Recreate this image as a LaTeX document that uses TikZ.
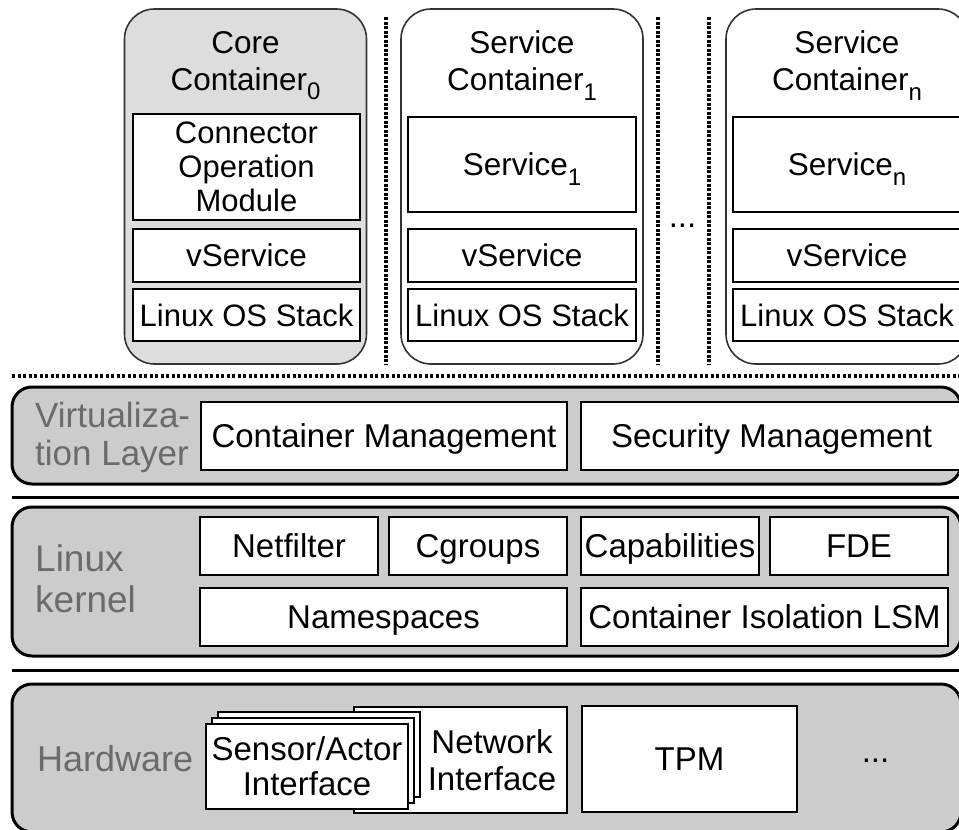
\documentclass[tikz,border=0pt]{standalone}
\usepackage{fontspec}
\setmainfont{Liberation Sans}
\definecolor{corefill}{HTML}{DDDDDD}
\definecolor{layerfill}{HTML}{CCCCCC}
\definecolor{labelgray}{HTML}{6B6B6B}
% lowered index after a word, e.g. Container_0
\newcommand{\subidx}[1]{\raisebox{-0.3em}[0pt][0pt]{\fontsize{24}{24}\selectfont #1}}
\begin{document}
\begin{tikzpicture}[x=1pt,y=-1pt,
  container/.style={rectangle, rounded corners=30pt, draw=black!80, line width=1.6pt,
    minimum width=242pt, minimum height=355pt, inner sep=0pt},
  layer/.style={rectangle, rounded corners=20pt, draw=black, line width=3pt,
    fill=layerfill, inner sep=0pt},
  ctext/.style={align=center, inner sep=0pt, text depth=0pt,
    font=\fontsize{31.5}{37}\selectfont},
  cbox/.style={ctext, draw=black, line width=1.8pt, fill=white, minimum width=228pt},
  lbox/.style={draw=black, line width=1.8pt, fill=white, inner sep=0pt, align=center,
    text depth=0pt, font=\fontsize{33}{36}\selectfont},
  hwbox/.style={lbox, line width=1.5pt, font=\fontsize{33}{35}\selectfont},
  layerlabel/.style={anchor=west, align=left, inner sep=0pt, text depth=0pt, text=labelgray},
  vsep/.style={line width=3.8pt, dash pattern=on 3pt off 1.5pt},
  hsep/.style={line width=3.2pt, dash pattern=on 3pt off 2.5pt},
  solidsep/.style={line width=3pt}
]
\useasboundingbox (0,0) rectangle (959,830);
\clip (0,0) rectangle (959,830);
\fill[white] (0,0) rectangle (959,830);

% ---------- containers ----------
\node[container, fill=corefill] (core) at (245.5,186.5) {};
\node[ctext] (coretitle) at (245.5,61) {Core\\Container\subidx{0}};
\node[cbox, minimum width=227pt, minimum height=106pt, font=\fontsize{31}{34}\selectfont]
  (com) at (246.5,167) {Connector\\Operation\\Module};
\node[cbox, minimum width=227pt, minimum height=53pt] (vs0) at (246.5,255.5) {vService};
\node[cbox, minimum width=227pt, minimum height=52pt, font=\fontsize{31}{34}\selectfont]
  (os0) at (246.5,315) {Linux OS Stack};

\node[container, fill=white] (sc1) at (522,186.5) {};
\node[ctext] (sc1title) at (522,61) {Service\\Container\subidx{1}};
\node[cbox, minimum height=95pt] (svc1) at (522,164.5) {Service\subidx{1}};
\node[cbox, minimum height=53pt] (vs1) at (522,255.5) {vService};
\node[cbox, minimum height=52pt, font=\fontsize{31}{34}\selectfont]
  (os1) at (522,315) {Linux OS Stack};

\node[container, fill=white] (scn) at (847,186.5) {};
\node[ctext] (scntitle) at (847,61) {Service\\Container\subidx{n}};
\node[cbox, minimum height=95pt] (svcn) at (847,164.5) {Service\subidx{n}};
\node[cbox, minimum height=53pt] (vsn) at (847,255.5) {vService};
\node[cbox, minimum height=52pt, font=\fontsize{31}{34}\selectfont]
  (osn) at (847,315) {Linux OS Stack};

% dotted separators between containers
\coordinate (s1t) at (386,17);  \coordinate (s1b) at (386,364);
\coordinate (s2t) at (658,17);  \coordinate (s2b) at (658,364);
\coordinate (s3t) at (709,17);  \coordinate (s3b) at (709,364);
\draw[vsep] (s1t) -- (s1b);
\draw[vsep] (s2t) -- (s2b);
\draw[vsep] (s3t) -- (s3b);
\node[anchor=base, inner sep=0pt, font=\fontsize{33}{36}\selectfont] (moredots) at (682.5,227) {...};

% dotted boundary above the virtualization layer
\coordinate (hl) at (12,376); \coordinate (hr) at (965,376);
\draw[hsep] (hl) -- (hr);

% ---------- virtualization layer ----------
\node[layer, minimum width=949pt, minimum height=97pt] (virt) at (486.5,435.5) {};
\node[layerlabel, font=\fontsize{35}{38}\selectfont] (virtlabel) at (35,433.5)
  {Virtualiza-\\tion Layer};
\node[lbox, minimum width=366pt, minimum height=68pt] (cm) at (384,436) {Container Management};
\node[lbox, minimum width=381pt, minimum height=68pt] (sm) at (771.5,436) {Security Management};

\coordinate (l1l) at (12,497); \coordinate (l1r) at (965,497);
\draw[solidsep] (l1l) -- (l1r);

% ---------- Linux kernel ----------
\node[layer, minimum width=949pt, minimum height=149pt] (kernel) at (486.5,581.5) {};
\node[layerlabel, font=\fontsize{37}{41}\selectfont] (kernellabel) at (35,579)
  {Linux\\kernel};
\node[lbox, minimum width=178pt, minimum height=58pt] (netf) at (289,546) {Netfilter};
\node[lbox, minimum width=178pt, minimum height=58pt] (cgr) at (478,546) {Cgroups};
\node[lbox, minimum width=178pt, minimum height=58pt] (cap) at (670,546) {Capabilities};
\node[lbox, minimum width=178pt, minimum height=58pt] (fde) at (859,546) {FDE};
\node[lbox, minimum width=367pt, minimum height=58pt] (ns) at (383.5,617) {Namespaces};
\node[lbox, minimum width=367pt, minimum height=58pt] (lsm) at (764.5,617) {Container Isolation LSM};

\coordinate (l2l) at (12,670); \coordinate (l2r) at (965,670);
\draw[solidsep] (l2l) -- (l2r);

% ---------- hardware ----------
\node[layer, minimum width=949pt, minimum height=148pt] (hw) at (486.5,758) {};
\node[layerlabel, font=\fontsize{36}{40}\selectfont] (hwlabel) at (37,758) {Hardware};
\node[hwbox, minimum width=213pt, minimum height=106pt] (netif) at (460.5,760) {};
\node[hwbox, minimum width=202pt, minimum height=85pt] (sa3) at (319,754.5) {};
\node[hwbox, minimum width=202pt, minimum height=85pt] (sa2) at (313,760.5) {};
\node[hwbox, minimum width=202pt, minimum height=85pt] (sa1) at (307,766.5) {Sensor/Actor\\Interface};
\node[ctext, font=\fontsize{33}{37}\selectfont] (netiftext) at (492,760) {Network\\Interface};
\node[hwbox, minimum width=215pt, minimum height=106pt] (tpm) at (689.5,759) {TPM};
\node[anchor=base, inner sep=0pt, font=\fontsize{33}{36}\selectfont] (hwdots) at (875.5,762) {...};
\end{tikzpicture}
\end{document}
